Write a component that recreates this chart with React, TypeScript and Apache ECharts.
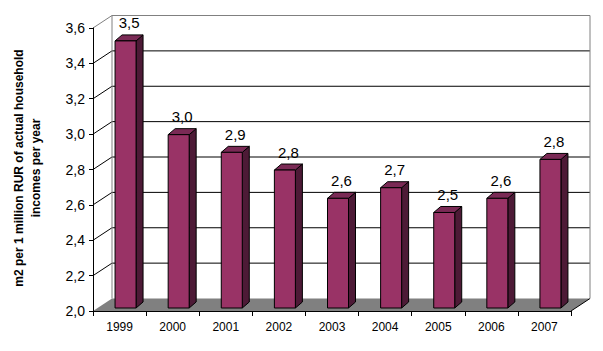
import React, { useEffect, useRef } from "react";
import * as echarts from "echarts";

const years = ["1999", "2000", "2001", "2002", "2003", "2004", "2005", "2006", "2007"];
const values = [3.51, 2.98, 2.88, 2.78, 2.62, 2.68, 2.54, 2.62, 2.84];
const yTicks = [2.0, 2.2, 2.4, 2.6, 2.8, 3.0, 3.2, 3.4, 3.6];
const yMin = 2.0;
const yMax = 3.6;
const yTitle = "m2 per 1 million RUR of actual household\nincomes per year";

const FONT = "'Liberation Sans', Arial, sans-serif";
const DX = 19;
const DY = -12.5;

const fmt = (v: number) => v.toFixed(1).replace(".", ",");

export default function App() {
  const ref = useRef<HTMLDivElement>(null);
  useEffect(() => {
    if (!ref.current) return;
    const chart = echarts.init(ref.current, undefined, { renderer: "svg" });

    const renderWalls = (params: any, api: any) => {
      const cs = params.coordSys;
      const x0 = cs.x;
      const x1 = cs.x + cs.width;
      const yb = api.coord([0, yMin])[1];
      const yt = api.coord([0, yMax])[1];
      const children: any[] = [];
      // floor
      children.push({
        type: "polygon",
        shape: { points: [[x0, yb], [x1, yb], [x1 + DX, yb + DY], [x0 + DX, yb + DY]] },
        style: { fill: "#808080", stroke: "none" },
      });
      children.push({
        type: "line",
        shape: { x1: x1, y1: yb, x2: x1 + DX, y2: yb + DY },
        style: { stroke: "#000", lineWidth: 1 },
      });
      // gridlines & left wall diagonals
      yTicks.forEach((t) => {
        if (t <= yMin || t >= yMax) return;
        const y = api.coord([0, t])[1];
        children.push({
          type: "line",
          shape: { x1: x0 + DX, y1: y + DY, x2: x1 + DX, y2: y + DY },
          style: { stroke: "#000", lineWidth: 1 },
        });
        children.push({
          type: "line",
          shape: { x1: x0, y1: y, x2: x0 + DX, y2: y + DY },
          style: { stroke: "#000", lineWidth: 1 },
        });
      });
      // top / borders (gray)
      const gray = { stroke: "#808080", lineWidth: 1 };
      children.push({ type: "line", shape: { x1: x0, y1: yt, x2: x0 + DX, y2: yt + DY }, style: gray });
      children.push({ type: "line", shape: { x1: x0 + DX, y1: yt + DY, x2: x1 + DX, y2: yt + DY }, style: gray });
      children.push({ type: "line", shape: { x1: x0 + DX, y1: yt + DY, x2: x0 + DX, y2: yb + DY }, style: gray });
      children.push({ type: "line", shape: { x1: x1 + DX, y1: yt + DY, x2: x1 + DX, y2: yb + DY }, style: gray });
      return { type: "group", children };
    };

    const BW = 21;
    const BOFF = -4.5;
    const BDX = 7;
    const BDY = -6;
    const SHIFT_Y = -3;

    const renderBar = (params: any, api: any) => {
      const i = api.value(0);
      const v = api.value(1);
      const top = api.coord([i, v]);
      const base = api.coord([i, yMin]);
      const cx = top[0];
      const l = cx + BOFF;
      const r = l + BW;
      const yT = top[1] + SHIFT_Y;
      const yB = base[1] + SHIFT_Y;
      const stroke = { stroke: "#000", lineWidth: 1 };
      return {
        type: "group",
        children: [
          {
            type: "polygon",
            shape: { points: [[r, yT], [r + BDX, yT + BDY], [r + BDX, yB + BDY], [r, yB]] },
            style: { fill: "#4d1a36", ...stroke },
          },
          {
            type: "polygon",
            shape: { points: [[l, yT], [r, yT], [r + BDX, yT + BDY], [l + BDX, yT + BDY]] },
            style: { fill: "#7a2a55", ...stroke },
          },
          {
            type: "rect",
            shape: { x: l, y: yT, width: BW, height: yB - yT },
            style: { fill: "#993366", ...stroke },
          },
          {
            type: "text",
            x: (l + r + BDX) / 2,
            y: yT - 18,
            style: {
              text: fmt(v),
              fill: "#000",
              fontSize: 15,
              fontFamily: FONT,
              align: "center",
              verticalAlign: "middle",
            },
          },
        ],
      };
    };

    chart.setOption({
      animation: false,
      backgroundColor: "#fff",
      grid: { left: 93, right: 32, top: 28, bottom: 40 },
      xAxis: {
        type: "category",
        data: years,
        axisLine: { show: true, lineStyle: { color: "#000", width: 1 } },
        axisTick: { show: true, length: 5, lineStyle: { color: "#000" } },
        axisLabel: { color: "#000", fontSize: 12, fontFamily: FONT, margin: 10 },
        splitLine: { show: false },
        z: 5,
      },
      yAxis: {
        type: "value",
        min: yMin,
        max: yMax,
        interval: 0.2,
        axisLine: { show: true, lineStyle: { color: "#000", width: 1 } },
        axisTick: { show: true, length: 4, lineStyle: { color: "#000" } },
        axisLabel: { color: "#000", fontSize: 14, fontFamily: FONT, margin: 8, formatter: (v: number) => fmt(v) },
        splitLine: { show: false },
        z: 5,
      },
      graphic: [
        {
          type: "text",
          x: 27,
          y: 168,
          rotation: Math.PI / 2,
          style: {
            text: yTitle,
            fill: "#000",
            fontSize: 12,
            fontWeight: "bold",
            fontFamily: FONT,
            lineHeight: 17,
            align: "center",
            verticalAlign: "middle",
          },
        },
      ],
      series: [
        {
          type: "custom",
          renderItem: renderWalls,
          data: [[0, yMin]],
          clip: false,
          silent: true,
          z: 1,
        },
        {
          type: "custom",
          renderItem: renderBar,
          data: values.map((v, i) => [i, v]),
          clip: false,
          silent: true,
          z: 3,
        },
      ],
    });
    return () => chart.dispose();
  }, []);
  return <div ref={ref} style={{ width: 603, height: 351, position: "absolute", left: 0, top: 0 }} />;
}
